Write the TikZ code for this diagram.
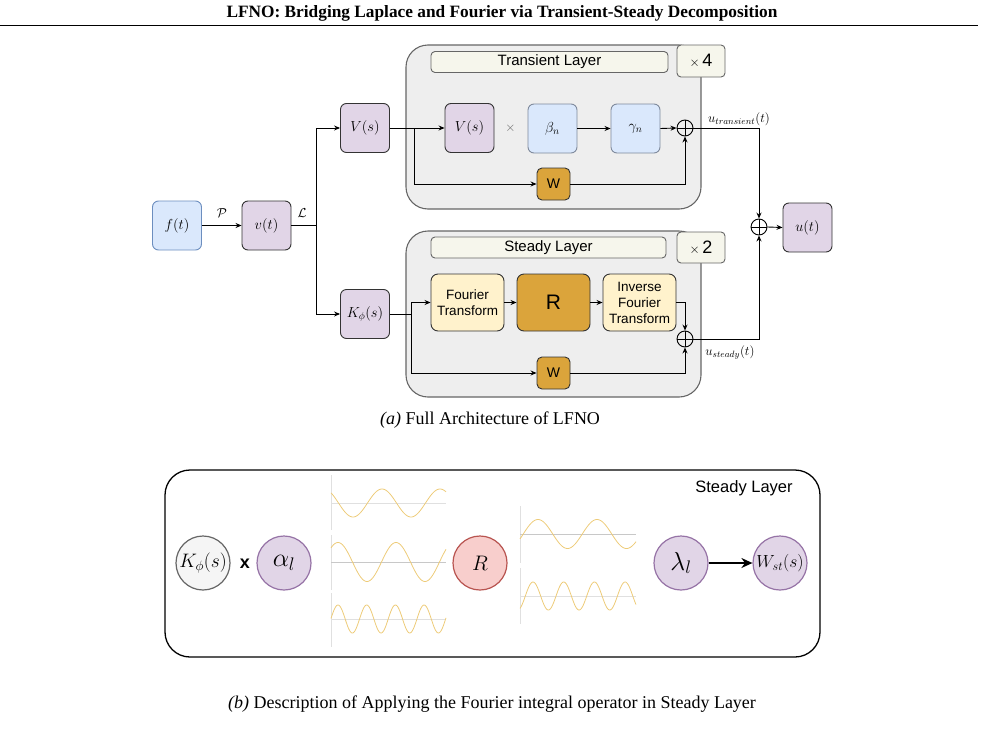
\RequirePackage{fix-cm}
\documentclass[tikz,border=0pt]{standalone}
\usepackage{fontspec}
\newfontfamily\capfont{Liberation Serif}
\newfontfamily\sansf{Liberation Sans}
\usetikzlibrary{arrows.meta,calc}
\definecolor{lav}{HTML}{E1D5E7}
\definecolor{lavdraw}{HTML}{9673A6}
\definecolor{lblue}{HTML}{DAE8FC}
\definecolor{bluedraw}{HTML}{6C8EBF}
\definecolor{greyblue}{HTML}{7F8A9C}
\definecolor{gold}{HTML}{DBA43B}
\definecolor{cream}{HTML}{FFF2CC}
\definecolor{hdr}{HTML}{F6F6EC}
\definecolor{lgray}{HTML}{EEEEEE}
\definecolor{mgray}{HTML}{666666}
\definecolor{dk}{HTML}{333333}
\definecolor{pinkf}{HTML}{F8CECC}
\definecolor{pinkd}{HTML}{B85450}
\definecolor{wavec}{HTML}{EDCB78}
\definecolor{axisc}{HTML}{E0E0E0}
\definecolor{axisd}{HTML}{C8C8C8}
\tikzset{
  mbox/.style={rounded corners=6pt, minimum width=49pt, minimum height=49pt, inner sep=0pt, line width=0.9pt, font=\fontsize{14.5}{16}\selectfont},
  lavbox/.style={mbox, fill=lav, draw=dk},
  bluebox/.style={mbox, fill=lblue, draw=bluedraw},
  bluebox2/.style={mbox, fill=lblue, draw=greyblue},
  goldbox/.style={rounded corners=5pt, fill=gold, draw=dk, line width=0.9pt, inner sep=0pt, minimum width=33pt, minimum height=32pt, font=\sansf\fontsize{14}{16}\selectfont},
  creambox/.style={rounded corners=7pt, fill=cream, draw=dk, line width=0.9pt, minimum width=73pt, minimum height=57pt, align=center, inner sep=0pt, font=\sansf\fontsize{13.5}{16}\selectfont},
  bigR/.style={rounded corners=7pt, fill=gold, draw=dk, line width=0.9pt, minimum width=73pt, minimum height=57pt, inner sep=0pt, font=\sansf\fontsize{21}{24}\selectfont},
  layer/.style={rounded corners=22pt, fill=lgray, draw=mgray, line width=1.1pt, minimum width=295pt, inner sep=0pt},
  header/.style={rounded corners=4pt, fill=hdr, draw=mgray, line width=0.9pt, inner sep=0pt, font=\sansf\fontsize{15}{17}\selectfont},
  opl/.style={circle, draw=black, line width=0.9pt, minimum size=16pt, inner sep=0pt,
    path picture={\draw[line width=0.9pt] (path picture bounding box.north) -- (path picture bounding box.south) (path picture bounding box.west) -- (path picture bounding box.east);}},
  arr/.style={-{Stealth[length=6pt,width=5pt]}, line width=0.9pt},
  conn/.style={line width=0.9pt},
  lbl/.style={inner sep=0pt, font=\fontsize{13}{15}\selectfont},
  bcirc/.style={circle, minimum size=54pt, inner sep=0pt, line width=1.2pt},
  purc/.style={bcirc, fill=lav, draw=lavdraw},
  wave/.style={wavec, line width=0.8pt},
  axisl/.style={axisc, line width=1pt},
}
\begin{document}
\begin{tikzpicture}[x=1pt,y=-1pt]
\useasboundingbox (0,0) rectangle (985,731);
% title
\node[font=\capfont\bfseries\fontsize{17.3}{20}\selectfont] (title) at (502,13) {LFNO: Bridging Laplace and Fourier via Transient-Steady Decomposition};
\draw[line width=1.8pt] (0,25.5) -- (978,25.5);

% layers
\node[layer, minimum height=164pt] (TL) at (553.5,127) {};
\node[layer, minimum height=166pt] (SL) at (553.5,314) {};
\node[header, minimum width=237pt, minimum height=21pt] (TLh) at (549.5,62) {Transient Layer};
\node[header, minimum width=48pt, minimum height=32pt] (x4) at (701,61) {{\fontsize{13}{15}\selectfont$\times$}\,{\fontsize{18}{20}\selectfont 4}};
\node[header, minimum width=235pt, minimum height=21pt] (SLh) at (548.5,247.5) {Steady Layer};
\node[header, minimum width=48pt, minimum height=31pt] (x2) at (701,247.5) {{\fontsize{13}{15}\selectfont$\times$}\,{\fontsize{18}{20}\selectfont 2}};

% main nodes
\node[bluebox] (f) at (177,225.5) {$f(t)$};
\node[lavbox] (v) at (266.5,225.5) {$v(t)$};
\node[lavbox] (Vo) at (365,128) {$V(s)$};
\node[lavbox] (Ko) at (365,314) {$K_\phi(s)$};
\node[lavbox] (Vi) at (469.5,128) {$V(s)$};
\node[lbl, text=mgray] (times) at (510.5,128.5) {$\times$};
\node[bluebox2] (beta) at (552.5,128.5) {$\beta_n$};
\node[bluebox2] (gamma) at (635.5,128.5) {$\gamma_n$};
\node[opl] (pt) at (685,128) {};
\node[goldbox] (Wt) at (553.5,184) {W};
\node[opl] (p2) at (759,227) {};
\node[lavbox] (u) at (807.5,227.5) {$u(t)$};
\node[creambox] (FT) at (467.5,302.5) {Fourier\\Transform};
\node[bigR] (R) at (553.5,302.5) {R};
\node[creambox] (IFT) at (639.5,302.5) {Inverse\\Fourier\\Transform};
\node[goldbox] (Ws) at (553.5,373) {W};
\node[opl] (ps) at (685,339) {};

% labels
\node[lbl] (Plbl) at (222,213) {$\mathcal{P}$};
\node[lbl] (Llbl) at (302,213) {$\mathcal{L}$};
\node[lbl] (utl) at (739,119) {$u_{transient}(t)$};
\node[lbl] (usl) at (730,352.5) {$u_{steady}(t)$};

% connectors
\coordinate (j1) at (316,225.5);
\coordinate (j2) at (414,128);
\coordinate (j3) at (411,314);
\draw[arr] (f.east) -- (v.west);
\draw[conn] (v.east) -- (j1);
\draw[arr] (j1) |- (Vo.west);
\draw[arr] (j1) |- (Ko.west);
\draw[arr] (Vo.east) -- (Vi.west);
\draw[arr] (j2) |- (Wt.west);
\draw[arr] (Wt.east) -| (pt.south);
\draw[arr] (beta.east) -- (gamma.west);
\draw[arr] (gamma.east) -- (pt.west);
\draw[arr] (pt.east) -| (p2.north);
\draw[conn] (Ko.east) -- (j3);
\draw[arr] (j3) |- (FT.west);
\draw[arr] (j3) |- (Ws.west);
\draw[arr] (FT.east) -- (R.west);
\draw[arr] (R.east) -- (IFT.west);
\draw[arr] (IFT.east) -| (ps.north);
\draw[arr] (Ws.east) -| (ps.south);
\draw[arr] (ps.east) -| (p2.south);
\draw[arr] (p2.east) -- (u.west);

% caption a
\node[font=\capfont\fontsize{18}{21}\selectfont] (capa) at (490,420) {\textit{(a)} Full Architecture of LFNO};

% part b
\node[draw=black, line width=1.3pt, rounded corners=25pt, minimum width=655pt, minimum height=187pt, inner sep=0pt] (frameb) at (492.5,563.5) {};
\node[font=\sansf\fontsize{16.5}{19}\selectfont] (slb) at (744,488) {Steady Layer};
\node[bcirc, fill=black!4, draw=mgray, font=\fontsize{19.5}{21}\selectfont] (Kc) at (203,563) {$K_\phi(s)$};
\node[font=\sansf\bfseries\fontsize{18}{20}\selectfont] (xb) at (245,564) {x};
\node[purc, font=\fontsize{26}{28}\selectfont] (al) at (284,563) {$\alpha_l$};
\node[bcirc, fill=pinkf, draw=pinkd, font=\fontsize{21}{23}\selectfont] (Rc) at (480,563) {$R$};
\node[purc, font=\fontsize{26}{28}\selectfont] (lam) at (681,563) {$\lambda_l$};
\node[purc, font=\fontsize{17.5}{19}\selectfont] (Wst) at (780,563) {$W_{st}(s)$};
\draw[-{Stealth[length=11pt,width=10pt]}, line width=1.6pt] (lam.east) -- (Wst.west);

% waves group 1
\draw[axisl] (331,475) -- (331,530);
\draw[axisl] (331,535) -- (331,590);
\draw[axisl] (331,593) -- (331,647);
\draw[axisl] (331,503) -- (446,503);
\draw[axisl, axisd] (331,562) -- (446,562);
\draw[axisl] (331,619) -- (446,619);
\draw[wave] plot[domain=331:446, samples=120] (\x, {503 - 14*cos(6.2069*(\x-382))});
\draw[wave] plot[domain=331:446, samples=120] (\x, {562 - 19.5*cos(6.2069*(\x-338))});
\draw[wave] plot[domain=331:446, samples=160] (\x, {619 - 14*cos(12.5436*(\x-338))});

% waves group 2
\draw[axisl] (520,506) -- (520,563);
\draw[axisl] (520,568) -- (520,624);
\draw[axisl, axisd] (520,534) -- (636,534);
\draw[axisl] (520,596) -- (636,596);
\draw[wave] plot[domain=520:636, samples=120] (\x, {534 - 14.5*cos(6.1017*(\x-538))});
\draw[wave] plot[domain=520:636, samples=160] (\x, {596 - 14*cos(11.7264*(\x-533))});

% caption b
\node[font=\capfont\fontsize{18}{21}\selectfont] (capb) at (492,704) {\textit{(b)} Description of Applying the Fourier integral operator in Steady Layer};
\end{tikzpicture}
\end{document}
